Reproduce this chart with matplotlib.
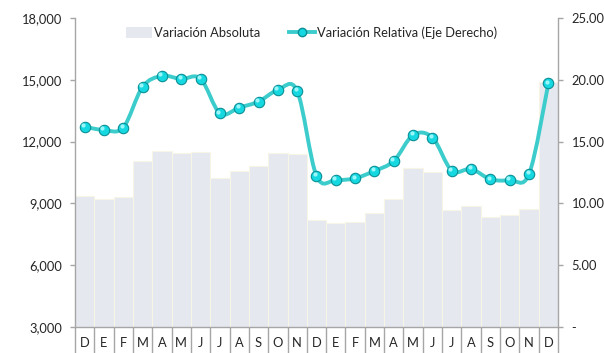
import numpy as np
import matplotlib
matplotlib.use("Agg")
import matplotlib.pyplot as plt
from matplotlib.path import Path
from matplotlib.patches import PathPatch
from matplotlib.lines import Line2D
from matplotlib.patches import Patch
from matplotlib import transforms

plt.rcParams["font.family"] = ["Lato", "DejaVu Sans"]
plt.rcParams["font.size"] = 9.3

# monthly data, Dec to Dec two years later
months = ["D", "E", "F", "M", "A", "M", "J", "J", "A", "S", "O", "N", "D",
          "E", "F", "M", "A", "M", "J", "J", "A", "S", "O", "N", "D"]
var_abs = [9350, 9230, 9300, 11050, 11550, 11460, 11510, 10220, 10570, 10830, 11460, 11380, 8190,
           8030, 8080, 8550, 9200, 10700, 10540, 8680, 8870, 8330, 8420, 8740, 14890]
var_rel = [16.20, 15.94, 16.13, 19.42, 20.31, 20.06, 20.09, 17.29, 17.75, 18.23, 19.17, 19.10, 12.22,
           11.89, 12.03, 12.62, 13.43, 15.53, 15.32, 12.65, 12.78, 11.95, 11.89, 12.38, 19.72]

bar_color = "#e6e8f0"
line_color = "#3dcccc"
text_color = "#262626"
spine_color = "#a6a6a6"
ball_face = "#16d8e0"
ball_edge = "#0a8f96"

fig = plt.figure(figsize=(6.04, 3.53), dpi=100)
ax = fig.add_axes([0.124, 0.074, 0.8, 0.875])
x = np.arange(len(months))

ax.bar(x, var_abs, width=1.0, color=bar_color, edgecolor="#f7f6e6", linewidth=0.8, zorder=1)
ax.set_xlim(-0.5, len(months) - 0.5)
ax.set_ylim(3000, 18000)
ax.set_yticks(np.arange(3000, 18001, 3000))
ax.set_yticklabels([f"{v:,.0f}" for v in np.arange(3000, 18001, 3000)])

ax2 = ax.twinx()
ax2.set_ylim(0, 25)
ax2.set_yticks(np.arange(0, 25.01, 5))
ax2.set_yticklabels(["-"] + [f"{v:.2f}" for v in np.arange(5, 25.01, 5)])

# smoothed line: catmull-rom segments as cubic beziers
pts = np.column_stack([x, var_rel]).astype(float)
ext = np.vstack([pts[0], pts, pts[-1]])
verts = [tuple(pts[0])]
codes = [Path.MOVETO]
for i in range(len(pts) - 1):
    p0, p1, p2, p3 = ext[i], ext[i + 1], ext[i + 2], ext[i + 3]
    c1 = p1 + (p2 - p0) / 6.0
    c2 = p2 - (p3 - p1) / 6.0
    verts += [tuple(c1), tuple(c2), tuple(p2)]
    codes += [Path.CURVE4] * 3
curve = PathPatch(Path(verts, codes), facecolor="none", edgecolor=line_color,
                  linewidth=2.8, capstyle="round", zorder=3)
ax2.add_patch(curve)

# ball markers with a small highlight
ax2.plot(x, var_rel, linestyle="none", marker="o", markersize=7.5,
         markerfacecolor=ball_face, markeredgecolor=ball_edge, markeredgewidth=0.8, zorder=4)
hl = transforms.offset_copy(ax2.transData, fig=fig, x=-1.0, y=1.2, units="points")
ax2.plot(x, var_rel, linestyle="none", marker="o", markersize=3.0, transform=hl,
         markerfacecolor="#9af6f8", markeredgewidth=0, zorder=5)

ax.set_zorder(ax2.get_zorder() - 1)
ax2.patch.set_visible(False)

# axes styling
for a in (ax, ax2):
    a.spines["top"].set_visible(False)
    for s in ("left", "right", "bottom"):
        a.spines[s].set_color(spine_color)
        a.spines[s].set_linewidth(1.0)
ax.spines["right"].set_visible(False)
ax2.spines["left"].set_visible(False)
ax2.spines["bottom"].set_visible(False)

ax.tick_params(axis="y", colors=spine_color, length=3.6, width=1.0, labelcolor=text_color, labelsize=9.3, pad=5.5)
ax2.tick_params(axis="y", colors=spine_color, length=3.6, width=1.0, labelcolor=text_color, labelsize=9.3, pad=6)

ax.set_xticks(x)
ax.set_xticklabels(months)
ax.set_xticks(np.arange(-0.5, len(months), 1.0), minor=True)
ax.tick_params(axis="x", which="major", length=0, labelsize=9.3, labelcolor=text_color, pad=7)
ax.tick_params(axis="x", which="minor", length=19, width=1.0, color=spine_color)

handles = [Patch(facecolor=bar_color, edgecolor="none"),
           Line2D([0], [0], color=line_color, linewidth=2.8, marker="o", markersize=6,
                  markerfacecolor=ball_face, markeredgecolor=ball_edge)]
labels = ["Variación Absoluta", "Variación Relativa (Eje Derecho)"]
ax2.legend(handles, labels, loc="upper center", bbox_to_anchor=(0.49, 1.01), ncol=2, frameon=False,
           fontsize=9.3, handlelength=2.0, handleheight=0.9, columnspacing=2.2, handletextpad=0.2,
           labelcolor=text_color)

fig.savefig("out.png", dpi=100)
